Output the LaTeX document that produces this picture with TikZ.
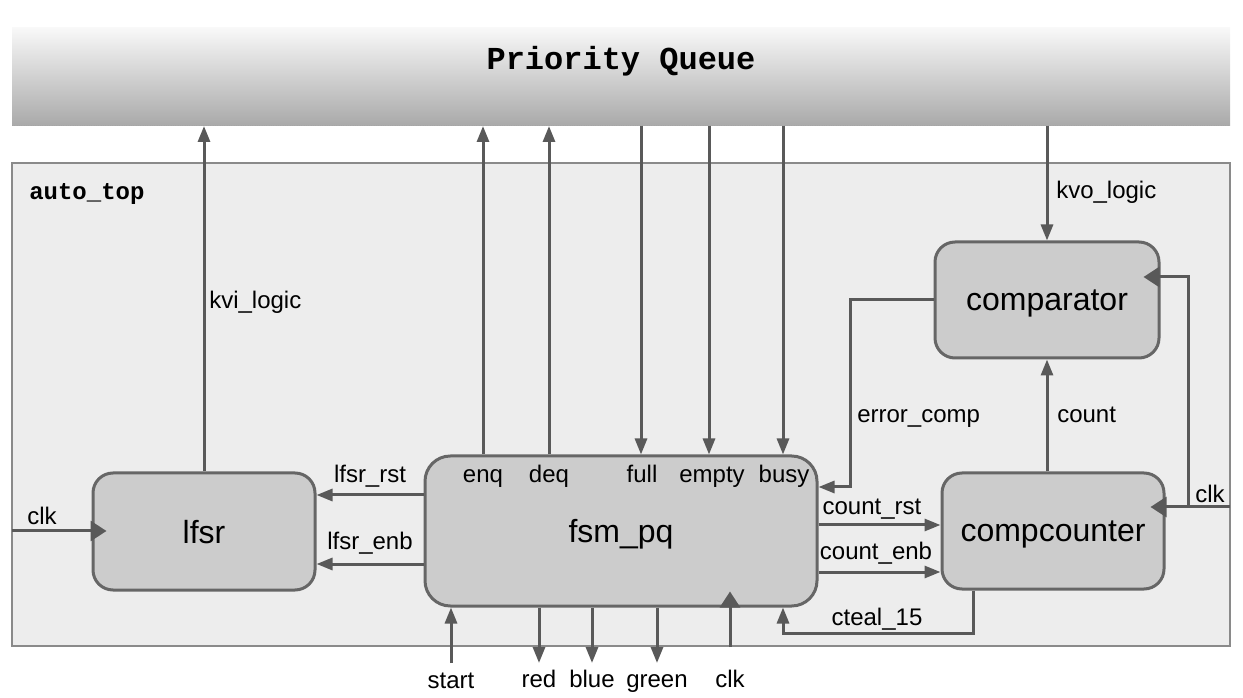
\documentclass[tikz,border=0pt]{standalone}
\usepackage{fontspec}
\setmainfont{Liberation Sans}
\newfontfamily\pqmono{Liberation Mono}
\usetikzlibrary{arrows.meta,calc}
\definecolor{wirec}{HTML}{595959}
\definecolor{boxfill}{HTML}{CCCCCC}
\definecolor{boxline}{HTML}{666666}
\definecolor{topfill}{HTML}{EDEDED}
\definecolor{topline}{HTML}{8A8A8A}
\definecolor{pqtop}{HTML}{F8F8F8}
\definecolor{pqbot}{HTML}{A9A9A9}
\begin{document}
\begin{tikzpicture}[x=0.75pt,y=-0.75pt,
  module/.style={draw=boxline, fill=boxfill, line width=2.25pt, rectangle,
    inner sep=0pt, font=\fontsize{24pt}{26pt}\selectfont, text depth=0pt},
  wire/.style={draw=wirec, line width=2.25pt},
  arr/.style={wire, -{Triangle[length=12pt,width=9pt]}},
  clkarr/.style={wire, -{Triangle[length=12pt,width=15pt]}},
  lbl/.style={font=\fontsize{18pt}{20pt}\selectfont, inner sep=0pt, anchor=base},
  lblw/.style={lbl, anchor=base west}]
\useasboundingbox (0,0) rectangle (1243,698);
% containers
\node[draw=topline, fill=topfill, line width=1.5pt, rectangle, inner sep=0pt,
  minimum width=913.5pt, minimum height=362.25pt] (autotop) at (621,404.5) {};
\node[rectangle, inner sep=0pt, outer sep=0pt, top color=pqtop, bottom color=pqbot,
  minimum width=913.5pt, minimum height=73.5pt] (pq) at (621,77) {};
\draw[gray!70, line width=0.75pt, densely dotted] (pq.south west) -- (pq.south east);
\node[lbl, font=\pqmono\bfseries\fontsize{24pt}{26pt}\selectfont] (pqtxt) at (621,70) {Priority Queue};
\node[lblw, font=\pqmono\bfseries\fontsize{18pt}{20pt}\selectfont] (toptxt) at (29,200) {auto\_top};
% modules
\node[module, rounded corners=15pt, minimum width=166.5pt, minimum height=87.75pt] (lfsr) at (204,531.5) {lfsr};
\node[module, rounded corners=19pt, minimum width=294pt, minimum height=112.5pt] (fsm) at (621,531) {fsm\_pq};
\node[module, rounded corners=15pt, minimum width=168pt, minimum height=87pt] (comparator) at (1047,300) {comparator};
\node[module, rounded corners=15pt, minimum width=166.5pt, minimum height=87pt] (compcounter) at (1053,531) {compcounter};
% helper coordinates
\coordinate (enqx) at (483,0);
\coordinate (deqx) at (549,0);
\coordinate (fullx) at (641,0);
\coordinate (emptyx) at (709,0);
\coordinate (busyx) at (783,0);
\coordinate (errx) at (850,487);
\coordinate (crst) at (0,525);
\coordinate (cenb) at (0,572);
\coordinate (ctl) at (973,633);
\coordinate (ctlx) at (783,0);
\coordinate (lrst) at (0,495);
\coordinate (lenb) at (0,564);
\coordinate (clkL) at (12,531);
\coordinate (clkR) at (1230,507);
\coordinate (clkJ) at (1188,507);
\coordinate (cmpclk) at (1188,277);
\coordinate (startE) at (451,663);
\coordinate (redE) at (539,663);
\coordinate (blueE) at (592,663);
\coordinate (greenE) at (657,663);
\coordinate (clkBx) at (730,0);
% wires to/from priority queue
\draw[arr] (lfsr.north) -- (lfsr.north |- pq.south);
\draw[arr] (fsm.north -| enqx) -- (pq.south -| enqx);
\draw[arr] (fsm.north -| deqx) -- (pq.south -| deqx);
\draw[arr] (pq.south -| fullx) -- (fsm.north -| fullx);
\draw[arr] (pq.south -| emptyx) -- (fsm.north -| emptyx);
\draw[arr] (pq.south -| busyx) -- (fsm.north -| busyx);
\draw[arr] (pq.south -| comparator.north) -- (comparator.north);
% internal wires
\draw[arr] (compcounter.north -| comparator.south) -- (comparator.south);
\draw[arr] (comparator.west) -| (errx) -- (fsm.east |- errx);
\draw[arr] (fsm.east |- crst) -- (compcounter.west |- crst);
\draw[arr] (fsm.east |- cenb) -- (compcounter.west |- cenb);
\draw[arr] (compcounter.south -| ctl) -- (ctl) -| (fsm.south -| ctlx);
\draw[arr] (fsm.west |- lrst) -- (lfsr.east |- lrst);
\draw[arr] (fsm.west |- lenb) -- (lfsr.east |- lenb);
% clocks
\draw[clkarr] (clkL) -- ($(lfsr.west |- clkL)+(15,0)$);
\draw[clkarr] (clkR) -- ($(compcounter.east |- clkR)+(-15,0)$);
\draw[clkarr] (clkJ) -- (cmpclk) -- ($(comparator.east |- cmpclk)+(-17,0)$);
\draw[clkarr] (autotop.south -| clkBx) -- ($(fsm.south -| clkBx)+(0,-16)$);
% bottom ports
\draw[arr] (startE) -- (fsm.south -| startE);
\draw[arr] (fsm.south -| redE) -- (redE);
\draw[arr] (fsm.south -| blueE) -- (blueE);
\draw[arr] (fsm.south -| greenE) -- (greenE);
% labels
\node[lblw] (l1) at (209,309) {kvi\_logic};
\node[lblw] (l2) at (1056,199) {kvo\_logic};
\node[lblw] (l3) at (857,423) {error\_comp};
\node[lblw] (l4) at (1057,423) {count};
\node[lbl] (l5) at (1210,503) {clk};
\node[lbl] (l6) at (872,515) {count\_rst};
\node[lbl] (l7) at (876,560) {count\_enb};
\node[lbl] (l8) at (877,625) {cteal\_15};
\node[lbl] (l9) at (370,483) {lfsr\_rst};
\node[lbl] (l10) at (370,550) {lfsr\_enb};
\node[lbl] (l11) at (42,524) {clk};
\node[lbl] (p1) at (483,483) {enq};
\node[lbl] (p2) at (549,483) {deq};
\node[lbl] (p3) at (642,483) {full};
\node[lbl] (p4) at (712,483) {empty};
\node[lbl] (p5) at (784,483) {busy};
\node[lbl] (b1) at (451,688) {start};
\node[lbl] (b2) at (539,687) {red};
\node[lbl] (b3) at (592,687) {blue};
\node[lbl] (b4) at (657,687) {green};
\node[lbl] (b5) at (730,687) {clk};
\end{tikzpicture}
\end{document}
